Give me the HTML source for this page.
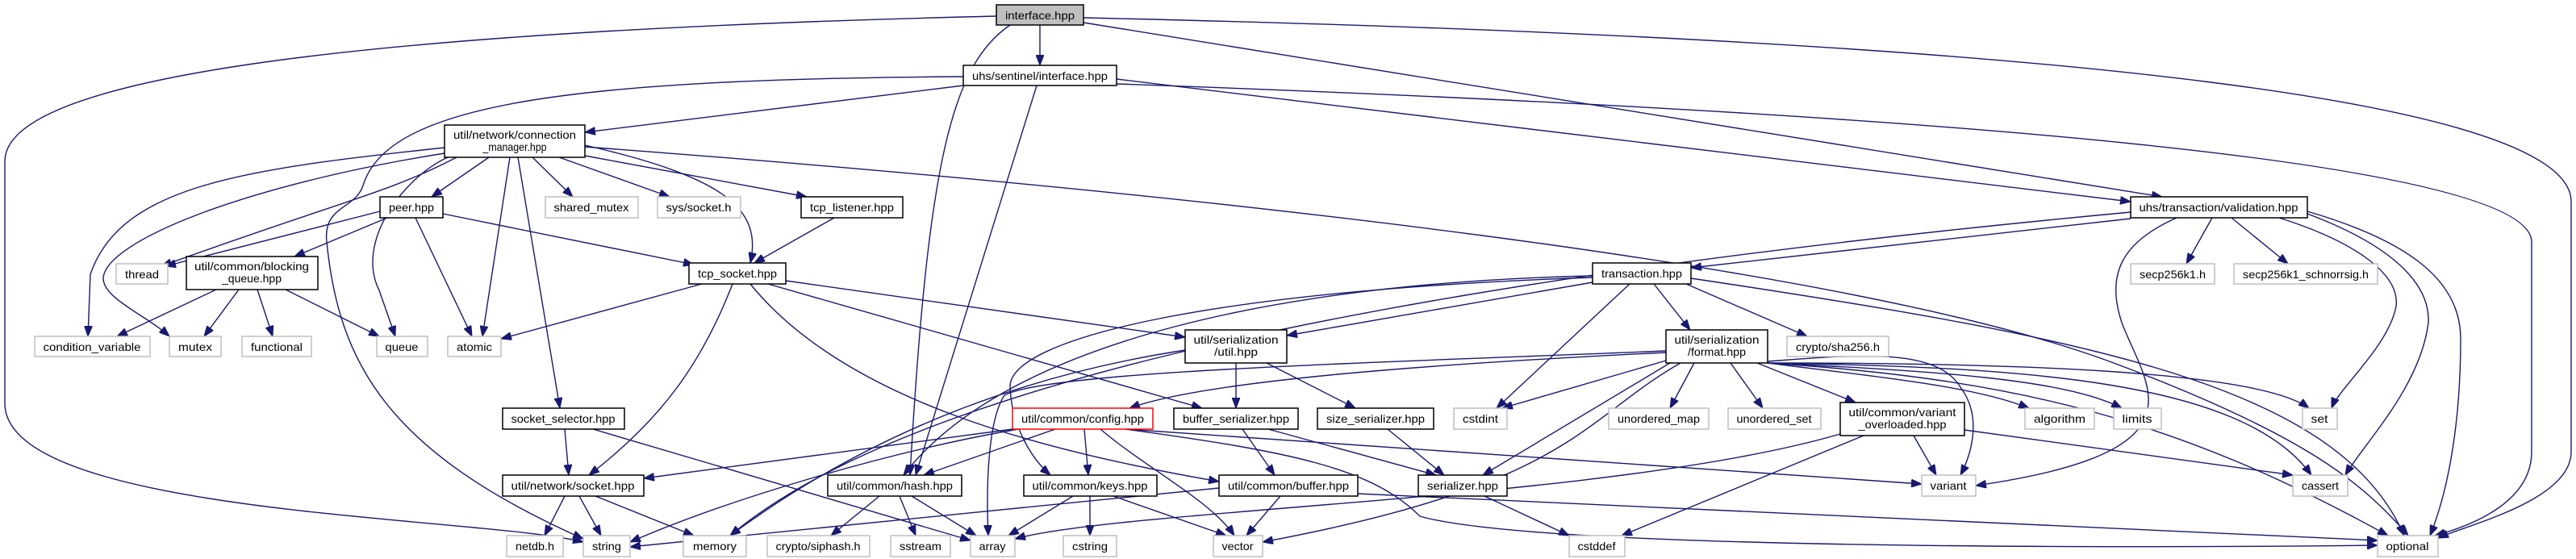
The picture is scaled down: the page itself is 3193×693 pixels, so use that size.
<!DOCTYPE html>
<html><head><meta charset="utf-8"><style>
html,body{margin:0;padding:0;background:#fff;}
svg{display:block;}
text{font-family:"Liberation Sans",sans-serif;font-size:14px;fill:#000;}
.n{fill:#fff;stroke:#000;stroke-width:1.5;}
.g{fill:#fff;stroke:#bfbfbf;stroke-width:1.5;}
.e{fill:none;stroke:#191970;stroke-width:1.4;marker-end:url(#a);}
</style></head><body>
<svg width="3193" height="693" viewBox="0 0 3193 693" xmlns="http://www.w3.org/2000/svg">
<defs><marker id="a" markerUnits="userSpaceOnUse" markerWidth="14" markerHeight="10" refX="13" refY="5" orient="auto"><path d="M0,0 L13,5 L0,10 Z" fill="#191970" stroke="#191970"/></marker></defs>
<g>
<!-- interface.hpp -->
<path class="e" d="M1235,20 C400,40 6,100 6,200 L6,500 C6,640 600,640 723,672"/>
<path class="e" d="M1289,31 L1289,81"/>
<path class="e" d="M1252,31 C1180,80 1150,200 1128,589"/>
<path class="e" d="M1343,28 L2680,244"/>
<path class="e" d="M1343,22 C2600,50 3187,130 3187,250 L3187,560 C3187,620 3060,650 3022,667"/>
<!-- sentinel -->
<path class="e" d="M1194,106 L725,164"/>
<path class="e" d="M1194,95 C700,98 480,130 450,230 C440,260 400,255 405,300 C420,450 480,560 723,668"/>
<path class="e" d="M1285,106 L1135,589"/>
<path class="e" d="M1384,98 L2641,250"/>
<path class="e" d="M1384,104 C2400,140 3138,200 3138,300 L3138,560 C3138,620 3070,650 3018,664"/>
<!-- connection_manager -->
<path class="e" d="M606,195 L535,244"/>
<path class="e" d="M660,195 L710,244"/>
<path class="e" d="M693,195 L830,244"/>
<path class="e" d="M725,193 L1000,244"/>
<path class="e" d="M725,180 C900,220 945,260 930,326"/>
<path class="e" d="M566,195 C480,240 420,250 200,330"/>
<path class="e" d="M551,183 C300,210 150,230 112,340 L109,417"/>
<path class="e" d="M551,190 C300,230 130,300 128,345 C128,370 180,390 210,417"/>
<path class="e" d="M555,195 C500,220 440,300 470,360 L490,417"/>
<path class="e" d="M632,195 L598,417"/>
<path class="e" d="M642,195 L694,506"/>
<path class="e" d="M725,182 C1500,240 2300,330 2620,450 C2860,540 2930,600 2985,664"/>
<!-- peer -->
<path class="e" d="M471,262 L205,330"/>
<path class="e" d="M480,270 L365,318"/>
<path class="e" d="M515,270 L585,417"/>
<path class="e" d="M549,265 L860,328"/>
<path class="e" d="M1034,270 L935,326"/>
<!-- blocking queue -->
<path class="e" d="M268,359 L145,417"/>
<path class="e" d="M296,359 L253,417"/>
<path class="e" d="M319,359 L338,417"/>
<path class="e" d="M354,359 L470,417"/>
<!-- tcp_socket -->
<path class="e" d="M870,352 L621,420"/>
<path class="e" d="M908,352 C870,450 820,520 730,589"/>
<path class="e" d="M974,348 L1469,418"/>
<path class="e" d="M952,352 L1490,506"/>
<path class="e" d="M930,352 C1050,500 1300,560 1511,597"/>
<!-- socket_selector / socket -->
<path class="e" d="M700,532 L705,589"/>
<path class="e" d="M735,532 L1203,670"/>
<path class="e" d="M700,615 L675,664"/>
<path class="e" d="M718,615 L745,664"/>
<path class="e" d="M738,615 L860,664"/>
<!-- serialization/util -->
<path class="e" d="M1532,450 L1532,506"/>
<path class="e" d="M1570,450 L1680,506"/>
<path class="e" d="M1469,434 C1300,460 1100,520 905,664"/>
<!-- transaction -->
<path class="e" d="M1974,350 L1595,416"/>
<path class="e" d="M2050,352 L2095,409"/>
<path class="e" d="M2020,352 L1855,506"/>
<path class="e" d="M2090,352 L2240,417"/>
<path class="e" d="M1974,342 C1600,350 1250,420 1120,589"/>
<path class="e" d="M1974,344 C1500,360 1250,420 1252,480 C1254,530 1280,570 1302,589"/>
<path class="e" d="M2096,345 C2600,420 2900,480 2980,664"/>
<!-- validation -->
<path class="e" d="M2641,271 L2096,332"/>
<path class="e" d="M2641,263 C1600,360 1100,500 905,664"/>
<path class="e" d="M2742,270 L2710,327"/>
<path class="e" d="M2766,270 L2836,327"/>
<path class="e" d="M2698,270 C2630,300 2610,340 2630,400 C2660,480 2740,560 2449,602"/>
<path class="e" d="M2825,270 C2920,300 2975,340 2970,380 C2960,430 2900,480 2890,506"/>
<path class="e" d="M2860,265 C2980,310 3012,360 3010,400 C3000,480 2930,550 2907,589"/>
<path class="e" d="M2860,262 C2990,300 3050,350 3050,420 C3050,540 3030,620 3012,664"/>
<!-- format -->
<path class="e" d="M2065,437 C1800,450 1500,470 1400,506"/>
<path class="e" d="M2065,435 C1700,450 1300,460 1245,490 C1225,520 1222,600 1225,664"/>
<path class="e" d="M2065,447 L1862,506"/>
<path class="e" d="M2100,450 L2070,506"/>
<path class="e" d="M2070,450 L1838,589"/>
<path class="e" d="M2083,450 C1960,520 1950,600 1565,672"/>
<path class="e" d="M2145,450 L2185,506"/>
<path class="e" d="M2178,450 L2300,499"/>
<path class="e" d="M2191,448 C2300,440 2400,430 2430,480 C2460,520 2440,570 2430,589"/>
<path class="e" d="M2191,450 C2350,470 2450,480 2515,506"/>
<path class="e" d="M2191,450 C2400,460 2560,470 2630,506"/>
<path class="e" d="M2191,450 C2500,450 2800,460 2862,506"/>
<path class="e" d="M2191,450 C2500,455 2780,470 2865,589"/>
<path class="e" d="M2191,450 C2500,470 2700,520 2960,664"/>
<!-- variant_overloaded -->
<path class="e" d="M2372,540 L2400,589"/>
<path class="e" d="M2435,533 L2842,589"/>
<path class="e" d="M2310,540 L2010,664"/>
<path class="e" d="M2281,538 C2000,620 1400,630 1258,668"/>
<!-- config -->
<path class="e" d="M1255,532 L798,593"/>
<path class="e" d="M1262,532 C1100,560 900,620 781,672"/>
<path class="e" d="M1308,532 L1145,589"/>
<path class="e" d="M1344,532 L1349,589"/>
<path class="e" d="M1364,532 C1420,580 1500,620 1530,664"/>
<path class="e" d="M1395,532 L2382,600"/>
<path class="e" d="M1395,532 C1600,560 1700,580 1760,640 C1900,680 2600,680 2947,676"/>
<!-- buffer_serializer, size_serializer -->
<path class="e" d="M1540,532 L1580,589"/>
<path class="e" d="M1572,532 L1780,589"/>
<path class="e" d="M1720,532 L1790,589"/>
<!-- hash, keys, buffer, serializer -->
<path class="e" d="M1090,615 L1030,664"/>
<path class="e" d="M1115,615 L1135,664"/>
<path class="e" d="M1130,615 L1210,664"/>
<path class="e" d="M1330,615 L1250,664"/>
<path class="e" d="M1351,615 L1351,664"/>
<path class="e" d="M1380,615 L1520,664"/>
<path class="e" d="M1511,605 L781,678"/>
<path class="e" d="M1587,615 L1545,664"/>
<path class="e" d="M1683,612 L2947,670"/>
<path class="e" d="M1840,615 L1945,664"/>
</g>
<g>
<rect x="1235" y="6" width="108" height="25" fill="#bfbfbf" stroke="#000" stroke-width="1.5"/><text x="1289" y="24" text-anchor="middle" textLength="86" lengthAdjust="spacingAndGlyphs">interface.hpp</text>
<rect class="n" x="1194" y="81" width="190" height="25"/><text x="1289" y="99" text-anchor="middle" textLength="168" lengthAdjust="spacingAndGlyphs">uhs/sentinel/interface.hpp</text>
<rect class="n" x="551" y="155" width="174" height="40"/><text x="638" y="172" text-anchor="middle" textLength="152" lengthAdjust="spacingAndGlyphs">util/network/connection</text><text x="638" y="187" text-anchor="middle" textLength="79" lengthAdjust="spacingAndGlyphs">_manager.hpp</text>
<rect class="n" x="2641" y="244" width="219" height="26"/><text x="2750" y="262" text-anchor="middle" textLength="197" lengthAdjust="spacingAndGlyphs">uhs/transaction/validation.hpp</text>
<rect class="n" x="471" y="244" width="78" height="26"/><text x="510" y="262" text-anchor="middle" textLength="56" lengthAdjust="spacingAndGlyphs">peer.hpp</text>
<rect class="g" x="676" y="244" width="115" height="26"/><text x="733" y="262" text-anchor="middle" textLength="93" lengthAdjust="spacingAndGlyphs">shared_mutex</text>
<rect class="g" x="815" y="244" width="103" height="26"/><text x="866" y="262" text-anchor="middle" textLength="81" lengthAdjust="spacingAndGlyphs">sys/socket.h</text>
<rect class="n" x="993" y="244" width="126" height="26"/><text x="1056" y="262" text-anchor="middle" textLength="104" lengthAdjust="spacingAndGlyphs">tcp_listener.hpp</text>
<rect class="g" x="144" y="327" width="64" height="25"/><text x="176" y="345" text-anchor="middle" textLength="42" lengthAdjust="spacingAndGlyphs">thread</text>
<rect class="n" x="231" y="318" width="163" height="41"/><text x="312" y="335" text-anchor="middle" textLength="142" lengthAdjust="spacingAndGlyphs">util/common/blocking</text><text x="312" y="350" text-anchor="middle" textLength="74" lengthAdjust="spacingAndGlyphs">_queue.hpp</text>
<rect class="n" x="854" y="326" width="120" height="26"/><text x="914" y="344" text-anchor="middle" textLength="98" lengthAdjust="spacingAndGlyphs">tcp_socket.hpp</text>
<rect class="n" x="1974" y="326" width="122" height="26"/><text x="2035" y="344" text-anchor="middle" textLength="100" lengthAdjust="spacingAndGlyphs">transaction.hpp</text>
<rect class="g" x="2641" y="327" width="104" height="25"/><text x="2693" y="345" text-anchor="middle" textLength="82" lengthAdjust="spacingAndGlyphs">secp256k1.h</text>
<rect class="g" x="2769" y="327" width="178" height="25"/><text x="2858" y="345" text-anchor="middle" textLength="156" lengthAdjust="spacingAndGlyphs">secp256k1_schnorrsig.h</text>
<rect class="g" x="43" y="417" width="143" height="25"/><text x="114" y="435" text-anchor="middle" textLength="121" lengthAdjust="spacingAndGlyphs">condition_variable</text>
<rect class="g" x="210" y="417" width="64" height="25"/><text x="242" y="435" text-anchor="middle" textLength="42" lengthAdjust="spacingAndGlyphs">mutex</text>
<rect class="g" x="300" y="417" width="86" height="25"/><text x="343" y="435" text-anchor="middle" textLength="64" lengthAdjust="spacingAndGlyphs">functional</text>
<rect class="g" x="467" y="417" width="63" height="25"/><text x="498" y="435" text-anchor="middle" textLength="41" lengthAdjust="spacingAndGlyphs">queue</text>
<rect class="g" x="555" y="417" width="66" height="25"/><text x="588" y="435" text-anchor="middle" textLength="44" lengthAdjust="spacingAndGlyphs">atomic</text>
<rect class="n" x="1469" y="409" width="126" height="41"/><text x="1532" y="426" text-anchor="middle" textLength="105" lengthAdjust="spacingAndGlyphs">util/serialization</text><text x="1532" y="441" text-anchor="middle" textLength="54" lengthAdjust="spacingAndGlyphs">/util.hpp</text>
<rect class="n" x="2065" y="409" width="126" height="41"/><text x="2128" y="426" text-anchor="middle" textLength="105" lengthAdjust="spacingAndGlyphs">util/serialization</text><text x="2128" y="441" text-anchor="middle" textLength="72" lengthAdjust="spacingAndGlyphs">/format.hpp</text>
<rect class="g" x="2215" y="417" width="126" height="25"/><text x="2278" y="435" text-anchor="middle" textLength="104" lengthAdjust="spacingAndGlyphs">crypto/sha256.h</text>
<rect x="1255" y="506" width="174" height="26" fill="#fff" stroke="#ff0000" stroke-width="1.5"/><text x="1342" y="524" text-anchor="middle" textLength="152" lengthAdjust="spacingAndGlyphs">util/common/config.hpp</text>
<rect class="n" x="1455" y="506" width="154" height="26"/><text x="1532" y="524" text-anchor="middle" textLength="132" lengthAdjust="spacingAndGlyphs">buffer_serializer.hpp</text>
<rect class="n" x="1633" y="506" width="144" height="26"/><text x="1705" y="524" text-anchor="middle" textLength="122" lengthAdjust="spacingAndGlyphs">size_serializer.hpp</text>
<rect class="g" x="1802" y="506" width="66" height="26"/><text x="1835" y="524" text-anchor="middle" textLength="44" lengthAdjust="spacingAndGlyphs">cstdint</text>
<rect class="g" x="1994" y="506" width="124" height="26"/><text x="2056" y="524" text-anchor="middle" textLength="102" lengthAdjust="spacingAndGlyphs">unordered_map</text>
<rect class="g" x="2142" y="506" width="115" height="26"/><text x="2199" y="524" text-anchor="middle" textLength="93" lengthAdjust="spacingAndGlyphs">unordered_set</text>
<rect class="n" x="2281" y="499" width="154" height="41"/><text x="2358" y="516" text-anchor="middle" textLength="133" lengthAdjust="spacingAndGlyphs">util/common/variant</text><text x="2358" y="531" text-anchor="middle" textLength="109" lengthAdjust="spacingAndGlyphs">_overloaded.hpp</text>
<rect class="g" x="2510" y="506" width="86" height="26"/><text x="2553" y="524" text-anchor="middle" textLength="64" lengthAdjust="spacingAndGlyphs">algorithm</text>
<rect class="g" x="2620" y="506" width="59" height="26"/><text x="2649" y="524" text-anchor="middle" textLength="37" lengthAdjust="spacingAndGlyphs">limits</text>
<rect class="g" x="2854" y="506" width="43" height="26"/><text x="2875" y="524" text-anchor="middle" textLength="21" lengthAdjust="spacingAndGlyphs">set</text>
<rect class="n" x="623" y="506" width="151" height="26"/><text x="698" y="524" text-anchor="middle" textLength="129" lengthAdjust="spacingAndGlyphs">socket_selector.hpp</text>
<rect class="n" x="623" y="589" width="175" height="26"/><text x="710" y="607" text-anchor="middle" textLength="153" lengthAdjust="spacingAndGlyphs">util/network/socket.hpp</text>
<rect class="n" x="1026" y="589" width="166" height="26"/><text x="1109" y="607" text-anchor="middle" textLength="144" lengthAdjust="spacingAndGlyphs">util/common/hash.hpp</text>
<rect class="n" x="1269" y="589" width="165" height="26"/><text x="1351" y="607" text-anchor="middle" textLength="143" lengthAdjust="spacingAndGlyphs">util/common/keys.hpp</text>
<rect class="n" x="1511" y="589" width="172" height="26"/><text x="1597" y="607" text-anchor="middle" textLength="150" lengthAdjust="spacingAndGlyphs">util/common/buffer.hpp</text>
<rect class="n" x="1758" y="589" width="110" height="26"/><text x="1813" y="607" text-anchor="middle" textLength="88" lengthAdjust="spacingAndGlyphs">serializer.hpp</text>
<rect class="g" x="2382" y="589" width="67" height="26"/><text x="2415" y="607" text-anchor="middle" textLength="45" lengthAdjust="spacingAndGlyphs">variant</text>
<rect class="g" x="2842" y="589" width="68" height="26"/><text x="2876" y="607" text-anchor="middle" textLength="46" lengthAdjust="spacingAndGlyphs">cassert</text>
<rect class="g" x="628" y="664" width="70" height="26"/><text x="663" y="682" text-anchor="middle" textLength="48" lengthAdjust="spacingAndGlyphs">netdb.h</text>
<rect class="g" x="723" y="664" width="58" height="26"/><text x="752" y="682" text-anchor="middle" textLength="36" lengthAdjust="spacingAndGlyphs">string</text>
<rect class="g" x="847" y="664" width="78" height="26"/><text x="886" y="682" text-anchor="middle" textLength="54" lengthAdjust="spacingAndGlyphs">memory</text>
<rect class="g" x="951" y="664" width="127" height="26"/><text x="1014" y="682" text-anchor="middle" textLength="105" lengthAdjust="spacingAndGlyphs">crypto/siphash.h</text>
<rect class="g" x="1104" y="664" width="74" height="26"/><text x="1141" y="682" text-anchor="middle" textLength="52" lengthAdjust="spacingAndGlyphs">sstream</text>
<rect class="g" x="1203" y="664" width="55" height="26"/><text x="1230" y="682" text-anchor="middle" textLength="33" lengthAdjust="spacingAndGlyphs">array</text>
<rect class="g" x="1318" y="664" width="66" height="26"/><text x="1351" y="682" text-anchor="middle" textLength="44" lengthAdjust="spacingAndGlyphs">cstring</text>
<rect class="g" x="1504" y="664" width="61" height="26"/><text x="1534" y="682" text-anchor="middle" textLength="39" lengthAdjust="spacingAndGlyphs">vector</text>
<rect class="g" x="1945" y="664" width="69" height="26"/><text x="1979" y="682" text-anchor="middle" textLength="47" lengthAdjust="spacingAndGlyphs">cstddef</text>
<rect class="g" x="2947" y="664" width="75" height="26"/><text x="2984" y="682" text-anchor="middle" textLength="53" lengthAdjust="spacingAndGlyphs">optional</text>
</g>
</svg>
</body></html>
